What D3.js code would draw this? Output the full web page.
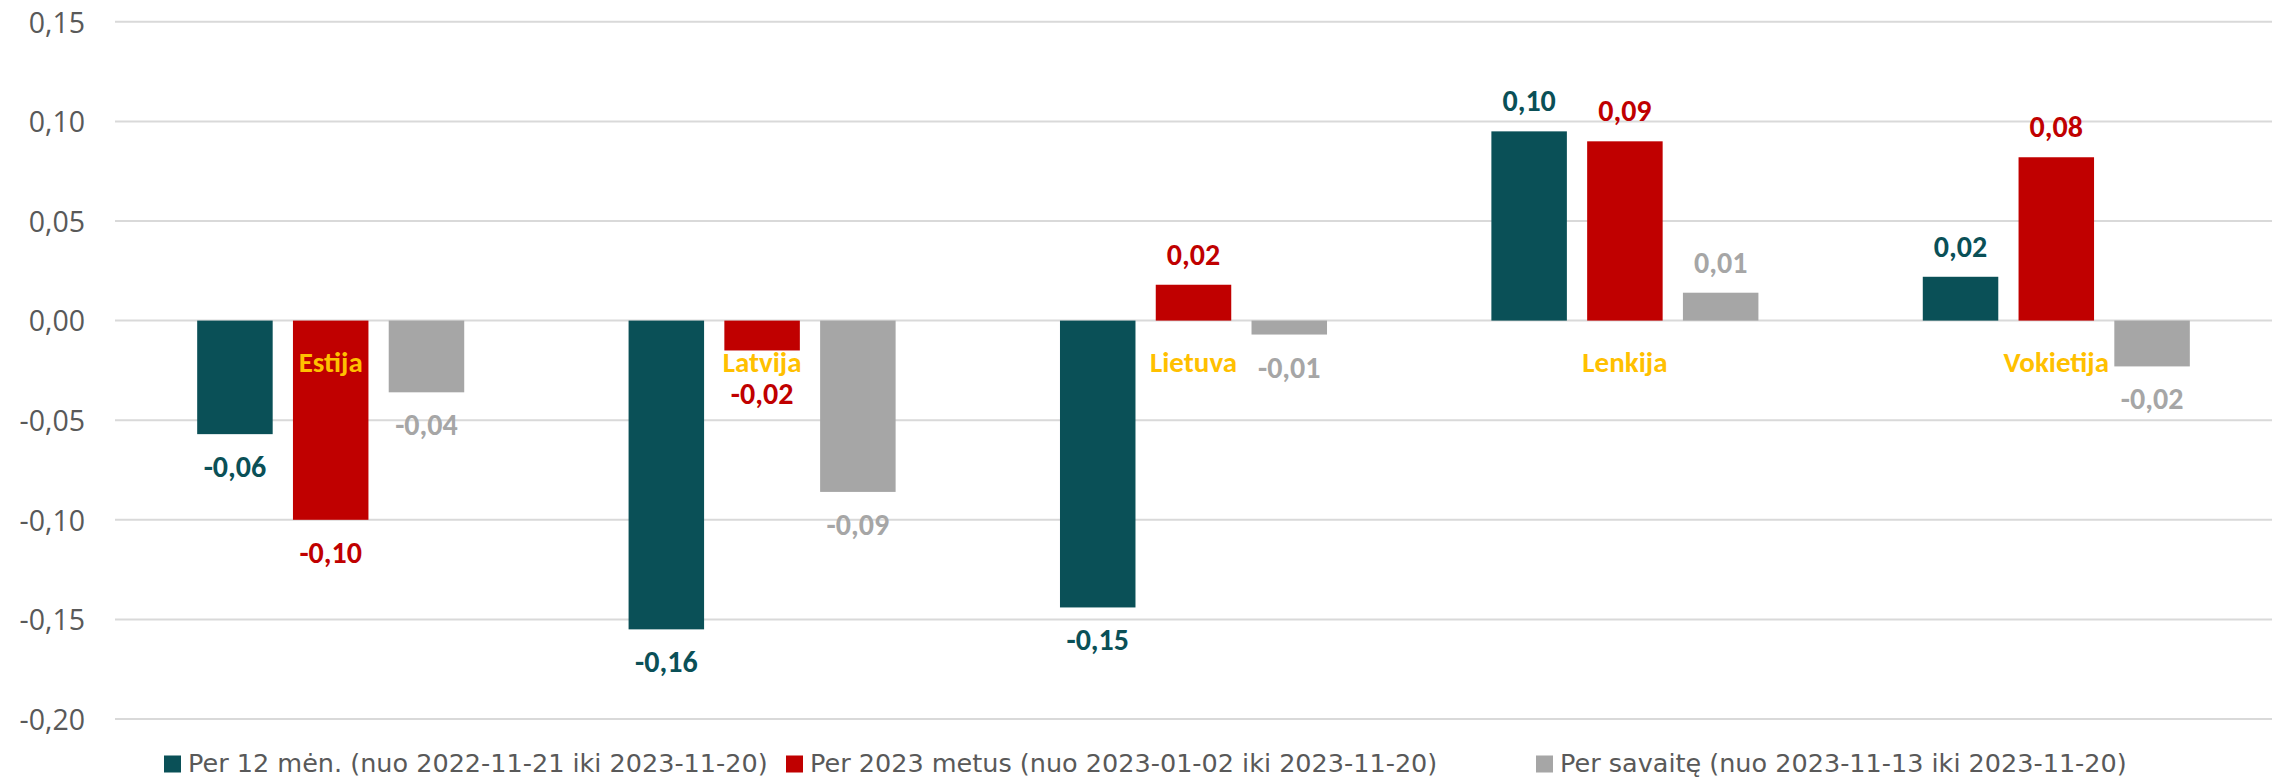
<!DOCTYPE html>
<html><head><meta charset="utf-8">
<script src="https://cdn.jsdelivr.net/npm/d3@7/dist/d3.min.js"></script>
<style>
html,body{margin:0;padding:0;background:#fff;}
svg{display:block;}
</style></head>
<body>
<svg id="chart" width="2277" height="780"></svg>
<script>
const categories = ["Estija", "Latvija", "Lietuva", "Lenkija", "Vokietija"];
const seriesNames = [
  "Per 12 mėn. (nuo 2022-11-21 iki 2023-11-20)",
  "Per 2023 metus (nuo 2023-01-02 iki 2023-11-20)",
  "Per savaitę (nuo 2023-11-13 iki 2023-11-20)"
];
const per12men = [-0.057, -0.155, -0.144, 0.095, 0.022];
const per2023 = [-0.100, -0.015, 0.018, 0.090, 0.082];
const perSavaite = [-0.036, -0.086, -0.007, 0.014, -0.023];
const valueLabels12 = ["-0,06", "-0,16", "-0,15", "0,10", "0,02"];
const valueLabels2023 = ["-0,10", "-0,02", "0,02", "0,09", "0,08"];
const valueLabelsSav = ["-0,04", "-0,09", "-0,01", "0,01", "-0,02"];
const yTicks = [-0.20, -0.15, -0.10, -0.05, 0.00, 0.05, 0.10, 0.15];
const yTickLabels = ["-0,20", "-0,15", "-0,10", "-0,05", "0,00", "0,05", "0,10", "0,15"];

const seriesValues = [per12men, per2023, perSavaite];
const seriesLabels = [valueLabels12, valueLabels2023, valueLabelsSav];
const colors = ["#0A5057", "#C00000", "#A6A6A6"];

(function(){
const svg = d3.select("#chart");
const mLeft = 115, mRight = 2272, mTop = 21.8, mBottom = 719;

const y = d3.scaleLinear().domain([-0.20, 0.15]).range([mBottom, mTop]);
const x = d3.scaleBand().domain(categories).range([mLeft, mRight]).padding(0);
const step = x.bandwidth();
const barW = step * 0.175;
const off = step * 0.222;
const inner = d3.scaleBand().domain([0,1,2])
  .range([step/2 - off - barW/2, step/2 + off + barW/2])
  .paddingInner((off - barW)/off);

// gridlines
svg.append("g").selectAll("line").data(yTicks).join("line")
  .attr("x1", mLeft).attr("x2", mRight)
  .attr("y1", d => y(d)).attr("y2", d => y(d))
  .attr("stroke", "#D9D9D9").attr("stroke-width", 2);

// y axis labels
const yAxis = d3.axisLeft(y).tickValues(yTicks)
  .tickFormat((d,i) => yTickLabels[i]).tickSize(0).tickPadding(0);
const ya = svg.append("g").attr("transform", `translate(85,0)`).call(yAxis);
ya.select(".domain").remove();
ya.selectAll("text").attr("font-family", "'Open Sans', sans-serif")
  .attr("font-size", 28.5).attr("fill", "#595959").attr("dy", "0.36em");

// bars
seriesValues.forEach((vals, s) => {
  svg.append("g").selectAll("rect").data(vals).join("rect")
    .attr("x", (d,i) => x(categories[i]) + inner(s))
    .attr("width", inner.bandwidth())
    .attr("y", d => y(Math.max(0, d)))
    .attr("height", d => Math.abs(y(d) - y(0)))
    .attr("fill", colors[s]);
});

// category labels
svg.append("g").selectAll("text").data(categories).join("text")
  .attr("x", d => x(d) + step/2)
  .attr("y", y(0) + 51)
  .attr("text-anchor", "middle")
  .attr("font-family", "Carlito, Lato, sans-serif").attr("font-weight", "bold")
  .attr("font-size", 29).attr("fill", "#FFC000")
  .text(d => d);

// value labels
seriesValues.forEach((vals, s) => {
  svg.append("g").selectAll("text").data(vals).join("text")
    .attr("x", (d,i) => x(categories[i]) + inner(s) + inner.bandwidth()/2)
    .attr("y", (d,i) => d >= 0 ? y(d) - 20 : y(d) + (s===1 && i===1 ? 54 : 43))
    .attr("text-anchor", "middle")
    .attr("font-family", "Carlito, Lato, sans-serif").attr("font-weight", "bold")
    .attr("font-size", 30).attr("fill", colors[s])
    .text((d,i) => seriesLabels[s][i]);
});

// legend
const legendX = [164, 786, 1536];
const lg = svg.append("g").attr("transform", "translate(0,764)");
seriesNames.forEach((name, i) => {
  const it = lg.append("g").attr("transform", `translate(${legendX[i]},0)`);
  it.append("rect").attr("x", 0).attr("y", -8.5).attr("width", 17).attr("height", 17).attr("fill", colors[i]);
  it.append("text").attr("x", 24).attr("y", 8)
    .attr("font-family", "'DejaVu Sans', Verdana, sans-serif").attr("font-size", 25.5)
    .attr("fill", "#595959").text(name);
});
})();
</script>
</body></html>
